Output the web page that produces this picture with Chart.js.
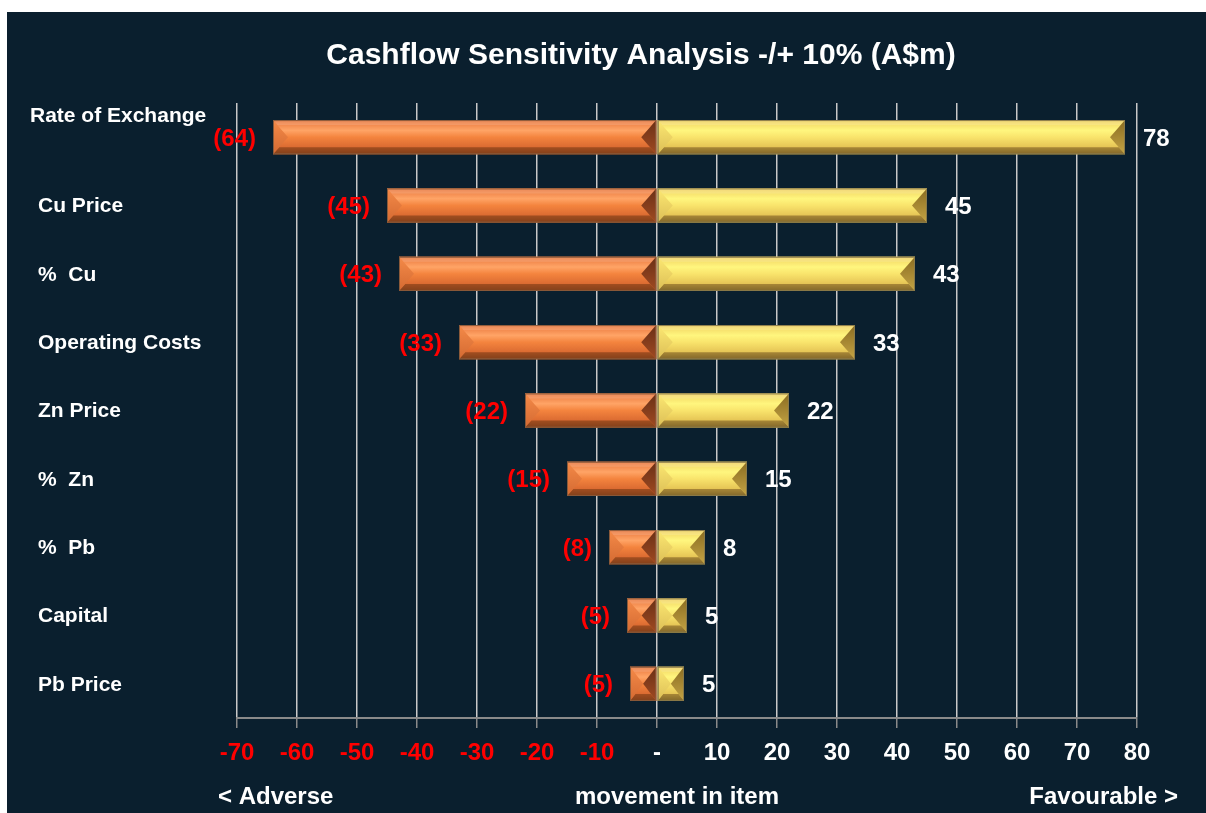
<!DOCTYPE html>
<html>
<head>
<meta charset="utf-8">
<title>Cashflow Sensitivity Analysis</title>
<script src="https://cdn.jsdelivr.net/npm/chart.js"></script>
<style>
    body { margin: 0; background: #ffffff; }
    #wrap { position: absolute; left: 7px; top: 12px; width: 1199px; height: 801px; background: #0a1f2e; }
</style>
</head>
<body>
<div id="wrap"><canvas id="sensChart" width="1199" height="801"></canvas></div>
<script>
// data (A$m, -/+ 10% movement)
const items = ['Rate of Exchange', 'Cu Price', '%  Cu', 'Operating Costs', 'Zn Price', '%  Zn', '%  Pb', 'Capital', 'Pb Price'];
const adverse = [-64, -45, -43, -33, -22, -15, -8, -5, -4.5];
const favourable = [78, 45, 43, 33, 22, 15, 8, 5, 4.5];
const xTicks = [-70, -60, -50, -40, -30, -20, -10, 0, 10, 20, 30, 40, 50, 60, 70, 80];

const titleText = 'Cashflow Sensitivity Analysis -/+ 10% (A$m)';
const footLeft = '< Adverse';
const footMid = 'movement in item';
const footRight = 'Favourable >';

const boldFont = '"Liberation Sans", Arial, sans-serif';
const narrowFont = '"Liberation Sans Narrow", "Arial Narrow", "Liberation Sans", Arial, sans-serif';

const orange = {
    stops: [[0, '#e8743a'], [0.3, '#ffa466'], [0.5, '#f4843e'], [0.78, '#dc6c32'], [1, '#a85428']],
    left: ['#f48a48', '#d46a32'], right: ['#6a3016', '#a04a22'],
    outline: '#8a5a3a'
};
const yellow = {
    stops: [[0, '#f0d060'], [0.3, '#fff67e'], [0.5, '#f9e46c'], [0.78, '#e6c656'], [1, '#a89040']],
    left: ['#fce872', '#dcbe56'], right: ['#8a6c22', '#c4a444'],
    outline: '#8a7a4a'
};

function poly(ctx, pts, fill) {
    ctx.beginPath();
    ctx.moveTo(pts[0][0], pts[0][1]);
    for (let i = 1; i < pts.length; i++) ctx.lineTo(pts[i][0], pts[i][1]);
    ctx.closePath();
    ctx.fillStyle = fill;
    ctx.fill();
}

function vGrad(ctx, top, bot, c1, c2) {
    const g = ctx.createLinearGradient(0, top, 0, bot);
    g.addColorStop(0, c1);
    g.addColorStop(1, c2);
    return g;
}

function drawBevelBar(ctx, x0, x1, top, bot, pal) {
    const w = x1 - x0, h = bot - top, mid = (top + bot) / 2;
    const bh = Math.min(15, w / 2);
    const k = bh / (h / 2);
    const tb = 5, bb = 7;
    const g = ctx.createLinearGradient(0, top, 0, bot);
    pal.stops.forEach(s => g.addColorStop(s[0], s[1]));
    ctx.fillStyle = g;
    ctx.fillRect(x0, top, w, h);
    // top and bottom bevel bands
    poly(ctx, [[x0, top], [x1, top], [x1 - k * tb, top + tb], [x0 + k * tb, top + tb]], 'rgba(255,255,255,0.14)');
    poly(ctx, [[x0, bot], [x1, bot], [x1 - k * bb, bot - bb], [x0 + k * bb, bot - bb]], 'rgba(60,25,0,0.35)');
    // end wedges
    poly(ctx, [[x0, top], [x0 + bh, mid], [x0, bot]], vGrad(ctx, top, bot, pal.left[0], pal.left[1]));
    poly(ctx, [[x1, top], [x1 - bh, mid], [x1, bot]], vGrad(ctx, top, bot, pal.right[0], pal.right[1]));
    ctx.strokeStyle = pal.outline;
    ctx.lineWidth = 1;
    ctx.strokeRect(x0 + 0.5, top + 0.5, w - 1, h - 1);
}

// draws the bevelled bars, value labels and the extra texts
const decorPlugin = {
    id: 'decor',
    afterDatasetsDraw(chart) {
        const ctx = chart.ctx;
        ctx.save();
        chart.data.datasets.forEach((ds, di) => {
            const meta = chart.getDatasetMeta(di);
            const pal = di === 0 ? orange : yellow;
            meta.data.forEach((bar, i) => {
                const p = bar.getProps(['x', 'y', 'base', 'height'], true);
                const x0 = Math.min(p.x, p.base), x1 = Math.max(p.x, p.base);
                drawBevelBar(ctx, x0, x1, p.y - p.height / 2, p.y + p.height / 2, pal);

                const v = Math.round(Math.abs(ds.data[i]));
                ctx.font = 'bold 24px ' + narrowFont;
                ctx.textBaseline = 'middle';
                if (di === 0) {
                    ctx.fillStyle = '#ff0000';
                    ctx.textAlign = 'right';
                    ctx.fillText('(' + v + ')', x0 - 17, p.y + 2);
                } else {
                    ctx.fillStyle = '#ffffff';
                    ctx.textAlign = 'left';
                    ctx.fillText(String(v), x1 + 18, p.y + 2);
                }
            });
        });
        ctx.restore();
    },
    afterDraw(chart) {
        const ctx = chart.ctx;
        const yScale = chart.scales.y;
        ctx.save();
        ctx.fillStyle = '#ffffff';
        ctx.textBaseline = 'middle';

        ctx.font = 'bold 30px ' + boldFont;
        ctx.textAlign = 'center';
        ctx.fillText(titleText, 634, 44);

        ctx.font = 'bold 21px ' + boldFont;
        ctx.textAlign = 'left';
        items.forEach((name, i) => {
            const y = yScale.getPixelForValue(i);
            if (i === 0) {
                ctx.fillText(name, 23, y - 21);
            } else {
                ctx.fillText(name, 31, y + 1);
            }
        });

        ctx.font = 'bold 24px ' + narrowFont;
        ctx.textAlign = 'left';
        ctx.fillText(footLeft, 211, 785);
        ctx.textAlign = 'center';
        ctx.fillText(footMid, 670, 785);
        ctx.textAlign = 'right';
        ctx.fillText(footRight, 1171, 785);
        ctx.restore();
    }
};

const ctxSens = document.getElementById('sensChart').getContext('2d');
const sensChart = new Chart(ctxSens, {
    type: 'bar',
    data: {
        labels: items,
        datasets: [{
            label: 'Adverse',
            data: adverse,
            backgroundColor: '#f4843e',
            borderWidth: 0,
            barPercentage: 0.5,
            categoryPercentage: 1
        }, {
            label: 'Favourable',
            data: favourable,
            backgroundColor: '#f9e46c',
            borderWidth: 0,
            barPercentage: 0.5,
            categoryPercentage: 1
        }]
    },
    options: {
        indexAxis: 'y',
        responsive: false,
        animation: false,
        devicePixelRatio: 1,
        layout: {
            padding: { left: 230, right: 69, top: 91, bottom: 45 }
        },
        scales: {
            x: {
                stacked: true,
                min: -70,
                max: 80,
                afterBuildTicks: function (scale) {
                    scale.ticks = xTicks.map(v => ({ value: v }));
                },
                afterFit: function (scale) {
                    scale.height = 50;
                },
                grid: {
                    color: '#c8c8c8',
                    lineWidth: 1.5,
                    tickLength: 10,
                    tickColor: '#8a8a8a'
                },
                border: {
                    color: '#8a8a8a',
                    width: 2
                },
                ticks: {
                    padding: 11,
                    font: { family: narrowFont, size: 24, weight: 'bold' },
                    color: function (context) {
                        return context.tick && context.tick.value < 0 ? '#ff0000' : '#ffffff';
                    },
                    callback: function (value) {
                        return value === 0 ? '-' : value;
                    }
                }
            },
            y: {
                stacked: true,
                display: false
            }
        },
        plugins: {
            legend: { display: false },
            title: { display: false },
            tooltip: { enabled: false }
        }
    },
    plugins: [decorPlugin]
});
</script>
</body>
</html>
